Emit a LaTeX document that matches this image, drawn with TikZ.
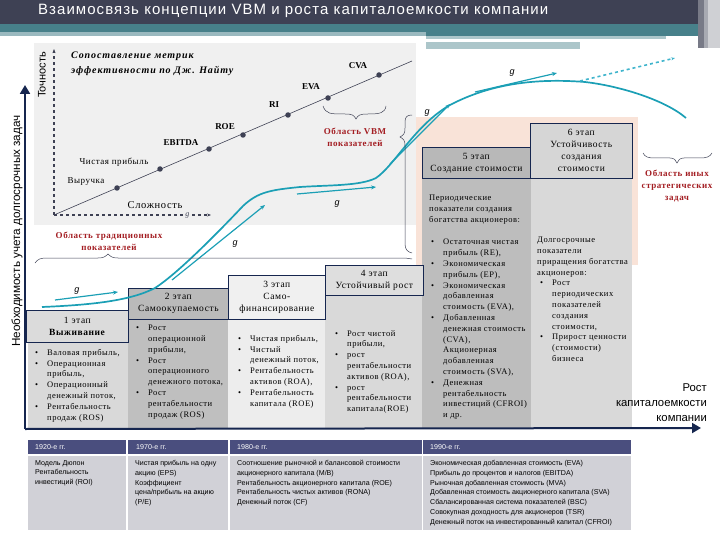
\documentclass[tikz,border=0pt]{standalone}
\usepackage{fontspec}
\setmainfont{Liberation Serif}
\setsansfont{Liberation Sans}
\newfontfamily\titlefont[LetterSpace=7]{Liberation Sans}
\newfontfamily\stagefont[LetterSpace=6]{Liberation Serif}
\newfontfamily\panelfont[LetterSpace=9]{Liberation Serif}
\usetikzlibrary{
    positioning,           % Relative positioning
    arrows.meta            % Modern arrow tips
}
\definecolor{navyline}{HTML}{16264F}
\definecolor{headdark}{HTML}{3E4154}
\definecolor{headteal}{HTML}{47808A}
\definecolor{flowteal}{HTML}{1B9FB5}
\definecolor{flowlight}{HTML}{3FB4CC}
\definecolor{areared}{HTML}{A31D22}
\definecolor{tablehead}{HTML}{4A4E7E}
\definecolor{tablebody}{HTML}{D1D1D7}
\definecolor{stagepink}{HTML}{F9E3D8}
\newcommand{\itm}[1]{\makebox[12pt][l]{\textbullet}#1}
\newcommand{\cnt}[1]{\hspace*{12pt}#1}
\tikzset{
    stagehead/.style={draw=navyline,line width=0.7pt,anchor=north west,inner sep=0pt,align=center,
        font=\stagefont\fontsize{9.5}{12}\selectfont},
    stagebody/.style={anchor=north west,inner sep=0pt},
    bodytext/.style={anchor=north west,inner sep=0pt,align=left,
        font=\stagefont\fontsize{8.5}{10.8}\selectfont},
    metric/.style={inner sep=0pt,font=\bfseries\fontsize{9}{10}\selectfont},
    metricru/.style={inner sep=0pt,font=\stagefont\fontsize{9}{10}\selectfont},
    metricdot/.style={circle,fill=headdark,inner sep=0pt,minimum size=5.5pt},
    arealabel/.style={inner sep=0pt,align=center,text=areared,
        font=\stagefont\bfseries\fontsize{9}{12}\selectfont},
    glabel/.style={inner sep=0pt,font=\sffamily\itshape\fontsize{9}{10}\selectfont},
    gflow/.style={flowteal,line width=1.2pt,-{Stealth[length=5pt,width=4pt]}},
    maincurve/.style={flowteal,line width=1.7pt},
    bigaxis/.style={navyline,line width=2pt,rounded corners=2pt},
    areabrace/.style={headdark,line width=0.5pt},
    tablehd/.style={fill=tablehead,anchor=north west,inner sep=0pt,minimum height=14pt},
    tablebd/.style={fill=tablebody,anchor=north west,inner sep=0pt,minimum height=74pt},
    tabletext/.style={anchor=north west,inner sep=0pt,align=left,font=\sffamily\fontsize{7.1}{9.8}\selectfont},
    tablelabel/.style={anchor=west,inner sep=0pt,text=white,font=\sffamily\fontsize{7.1}{8}\selectfont}
}
\begin{document}
\begin{tikzpicture}[x=1pt,y=-1pt]
    \useasboundingbox (0,0) rectangle (720,540);
    % header band
    \fill[headteal!55!white] (0,32) rectangle (426,36);
    \fill[headteal] (0,24) rectangle (426,32);
    \fill[headteal] (426,24) rectangle (698,36);
    \fill[headteal!45!white] (426,36) rectangle (666,39.5);
    \fill[headteal!45!white] (426,42.5) rectangle (580,49);
    \fill[headdark] (0,0) rectangle (698,24);
    \fill[headdark!70!white] (698,0) rectangle (704,48);
    \fill[headdark!45!white] (704,0) rectangle (708,48);
    \fill[headdark!25!white] (708,0) rectangle (720,48);
    \node[anchor=west,inner sep=0pt,text=white,font=\titlefont\fontsize{15}{16}\selectfont] (title) at (38,11) {Взаимосвязь концепции VBM и роста капиталоемкости компании};
    % metric panel
    \fill[black!6] (34,43) rectangle (416,225);
    \fill[stagepink] (416,117) rectangle (638,265);
    \coordinate (origin) at (54,215);
    \coordinate (ytop) at (54,49);
    \coordinate (xend) at (211,215);
    \coordinate (lineend) at (412,61);
    \draw[headdark,line width=1.1pt,dashed,-{Stealth[length=4pt]}] (origin) -- (ytop);
    \draw[headdark,line width=1.1pt,dashed,-{Stealth[length=4pt]}] (origin) -- node[pos=0.85,fill=black!6,inner sep=1pt,font=\itshape\fontsize{8}{8}\selectfont] (gaxis) {g} (xend);
    \draw[headdark,line width=0.6pt] (origin) -- (lineend);
    \node[metricdot] (mrev) at (117,188) {};
    \node[metricdot] (mnet) at (160,169) {};
    \node[metricdot] (mebitda) at (209,149) {};
    \node[metricdot] (mroe) at (243,135) {};
    \node[metricdot] (mri) at (288,115) {};
    \node[metricdot] (meva) at (328,98) {};
    \node[metricdot] (mcva) at (379,75) {};
    \node[metricru] at (86,182) {Выручка};
    \node[metricru] at (114,162) {Чистая прибыль};
    \node[metric] at (181,143) {EBITDA};
    \node[metric] at (225,127) {ROE};
    \node[metric] at (274,105) {RI};
    \node[metric] at (311,87) {EVA};
    \node[metric] at (358,66) {CVA};
    \node[inner sep=0pt,font=\stagefont\fontsize{10.5}{12}\selectfont] (hard) at (155,205) {Сложность};
    \node[anchor=north west,inner sep=0pt,align=left,font=\panelfont\bfseries\itshape\fontsize{10}{15}\selectfont] (panel) at (71,51.5) {Сопоставление метрик\\эффективности по Дж. Найту};
    \node[rotate=90,inner sep=0pt,font=\sffamily\fontsize{11}{12}\selectfont] (accuracy) at (42,75) {Точность};
    \node[rotate=90,inner sep=0pt,font=\sffamily\fontsize{11.7}{12}\selectfont] (need) at (17,231) {Необходимость учета долгосрочных задач};
    % stages
    \node[stagebody,fill=black!15,minimum width=100pt,minimum height=86pt] (body1) at (28,342) {};
    \node[stagebody,fill=black!25,minimum width=100pt,minimum height=109pt] (body2) at (128,319) {};
    \node[stagebody,fill=black!7,minimum width=97pt,minimum height=109pt] (body3) at (228,319) {};
    \node[stagebody,fill=black!15,minimum width=97pt,minimum height=133pt] (body4) at (325,295) {};
    \node[stagebody,fill=black!26,minimum width=109pt,minimum height=250pt] (body5) at (422,178) {};
    \node[stagebody,fill=black!15,minimum width=101pt,minimum height=250pt] (body6) at (531,178) {};
    \node[stagehead,fill=black!14,minimum width=102pt,minimum height=32pt] (stage1) at (26,310) {1 этап\\\textbf{Выживание}};
    \node[stagehead,fill=black!27,minimum width=100pt,minimum height=31pt] (stage2) at (128,288) {2 этап\\Самоокупаемость};
    \node[stagehead,fill=black!6,minimum width=97pt,minimum height=44pt] (stage3) at (228,275) {3 этап\\Само-\\финансирование};
    \node[stagehead,fill=black!13,minimum width=98pt,minimum height=30pt] (stage4) at (325,265) {4 этап\\Устойчивый рост};
    \node[stagehead,fill=black!28,minimum width=108pt,minimum height=31pt] (stage5) at (422,147) {5 этап\\Создание стоимости};
    \node[stagehead,fill=black!16,minimum width=102pt,minimum height=55pt] (stage6) at (530,123) {6 этап\\Устойчивость\\создания\\стоимости};
    % stage texts
    \node[bodytext] (text1) at (35,349) {\itm{Валовая прибыль,}\\\itm{Операционная}\\\cnt{прибыль,}\\\itm{Операционный}\\\cnt{денежный поток,}\\\itm{Рентабельность}\\\cnt{продаж (ROS)}};
    \node[bodytext] (text2) at (136,325) {\itm{Рост}\\\cnt{операционной}\\\cnt{прибыли,}\\\itm{Рост}\\\cnt{операционного}\\\cnt{денежного потока,}\\\itm{Рост}\\\cnt{рентабельности}\\\cnt{продаж (ROS)}};
    \node[bodytext] (text3) at (238,335) {\itm{Чистая прибыль,}\\\itm{Чистый}\\\cnt{денежный поток,}\\\itm{Рентабельность}\\\cnt{активов (ROA),}\\\itm{Рентабельность}\\\cnt{капитала (ROE)}};
    \node[bodytext] (text4) at (335,330) {\itm{Рост чистой}\\\cnt{прибыли,}\\\itm{рост}\\\cnt{рентабельности}\\\cnt{активов (ROA),}\\\itm{рост}\\\cnt{рентабельности}\\\cnt{капитала(ROE)}};
    \node[bodytext] (text5a) at (429,195) {Периодические\\показатели создания\\богатства акционеров:};
    \node[bodytext] (text5) at (431,239) {\itm{Остаточная чистая}\\\cnt{прибыль (RE),}\\\itm{Экономическая}\\\cnt{прибыль (EP),}\\\itm{Экономическая}\\\cnt{добавленная}\\\cnt{стоимость (EVA),}\\\itm{Добавленная}\\\cnt{денежная стоимость}\\\cnt{(CVA),}\\\cnt{Акционерная}\\\cnt{добавленная}\\\cnt{стоимость (SVA),}\\\itm{Денежная}\\\cnt{рентабельность}\\\cnt{инвестиций (CFROI)}\\\cnt{и др.}};
    \node[bodytext] (text6) at (537,237) {Долгосрочные\\показатели\\приращения богатства\\акционеров:\\\hspace*{3pt}\itm{Рост}\\\hspace*{3pt}\cnt{периодических}\\\hspace*{3pt}\cnt{показателей}\\\hspace*{3pt}\cnt{создания}\\\hspace*{3pt}\cnt{стоимости,}\\\hspace*{3pt}\itm{Прирост ценности}\\\hspace*{3pt}\cnt{(стоимости)}\\\hspace*{3pt}\cnt{бизнеса}};
    % big axes
    \coordinate (needtop) at (25,85);
    \coordinate (corner) at (25,429);
    \coordinate (growthend) at (701,428);
    \draw[bigaxis,-{Triangle[length=9pt,width=10pt]}] (corner) -- (needtop);
    \draw[bigaxis,-{Triangle[length=9pt,width=10pt]}] (corner) -- (growthend);
    \node[anchor=north east,inner sep=0pt,align=right,font=\sffamily\fontsize{11.3}{14.6}\selectfont] (growth) at (707,384) {Рост\\капиталоемкости\\компании};
    % growth curve
    \draw[maincurve] (42,307) .. controls (90,305) and (130,301) .. (155,288)
        .. controls (180,272) and (225,225) .. (243,206)
        .. controls (258,192) and (270,190) .. (300,187)
        .. controls (330,185) and (360,186) .. (376,178)
        .. controls (395,165) and (415,125) .. (450,105)
        .. controls (490,84) and (535,78) .. (585,82)
        .. controls (620,86) and (665,100) .. (686,118);
    \coordinate (branch) at (580,81);
    \coordinate (branchend) at (675,58);
    \draw[flowlight,line width=1.6pt,dashed,-{Stealth[length=4pt]}] (branch) -- (branchend);
    % g flows
    \coordinate (ga1) at (55,300);
    \coordinate (gb1) at (118,292);
    \coordinate (ga2) at (172,280);
    \coordinate (gb2) at (265,205);
    \coordinate (ga3) at (297,194);
    \coordinate (gb3) at (376,187);
    \coordinate (ga4) at (390,164);
    \coordinate (gb4) at (450,104);
    \coordinate (ga5) at (475,92);
    \coordinate (gb5) at (557,73);
    \foreach \n in {1,...,5}
        \draw[gflow] (ga\n) -- (gb\n);
    \node[glabel] (g1) at (77,291) {g};
    \node[glabel] (g2) at (235,244) {g};
    \node[glabel] (g3) at (337,204) {g};
    \node[glabel] (g4) at (427,113) {g};
    \node[glabel] (g5) at (512,73) {g};
    % braces
    \draw[areabrace] (323,106) .. controls (326,114) and (330,114) .. (345,114) .. controls (352,114) and (354,115) .. (356,119)
        .. controls (358,115) and (360,114) .. (368,114) .. controls (380,114) and (385,113) .. (386,106);
    \draw[areabrace] (35,263) .. controls (38,259) and (40,258) .. (48,258) -- (98,258) .. controls (103,258) and (105,257) .. (108,254)
        .. controls (111,257) and (113,258) .. (118,258) -- (398,258) .. controls (405,258) and (408,258) .. (412,259);
    \draw[areabrace] (412,253) .. controls (408,252) and (405,250) .. (405,244) -- (405,146) .. controls (405,141) and (404,139) .. (400,137)
        .. controls (404,135) and (405,133) .. (405,128) -- (405,122) .. controls (405,117) and (407,115) .. (412,115);
    \draw[areabrace] (643,153) .. controls (645,157) and (648,158) .. (655,158) -- (670,158) .. controls (674,158) and (676,160) .. (677,163)
        .. controls (678,160) and (680,158) .. (684,158) -- (700,158) .. controls (706,158) and (710,157) .. (712,153);
    \node[arealabel] (vbmarea) at (355,137) {Область VBM\\показателей};
    \node[arealabel] (tradarea) at (109,241) {Область традиционных\\показателей};
    \node[arealabel] (stratarea) at (677,186) {Область иных\\стратегических\\задач};
    % table
    \node[tablehd,minimum width=98pt] (hd1) at (28,440) {};
    \node[tablehd,minimum width=100pt] (hd2) at (128,440) {};
    \node[tablehd,minimum width=192pt] (hd3) at (230,440) {};
    \node[tablehd,minimum width=208pt] (hd4) at (423,440) {};
    \node[tablebd,minimum width=98pt] (bd1) at (28,456) {};
    \node[tablebd,minimum width=100pt] (bd2) at (128,456) {};
    \node[tablebd,minimum width=192pt] (bd3) at (230,456) {};
    \node[tablebd,minimum width=208pt] (bd4) at (423,456) {};
    \node[tablelabel] at (35,447) {1920-е гг.};
    \node[tablelabel] at (136,447) {1970-е гг.};
    \node[tablelabel] at (237,447) {1980-е гг.};
    \node[tablelabel] at (430,447) {1990-е гг.};
    \node[tabletext] (era1) at (35,460) {Модель Дюпон\\Рентабельность\\инвестиций (ROI)};
    \node[tabletext] (era2) at (135,460) {Чистая прибыль на одну\\акцию (EPS)\\Коэффициент\\цена/прибыль на акцию\\(P/E)};
    \node[tabletext] (era3) at (237,460) {Соотношение рыночной и балансовой стоимости\\акционерного капитала (M/B)\\Рентабельность акционерного капитала (ROE)\\Рентабельность чистых активов (RONA)\\Денежный поток (CF)};
    \node[tabletext] (era4) at (430,460) {Экономическая добавленная стоимость (EVA)\\Прибыль до процентов и налогов (EBITDA)\\Рыночная добавленная стоимость (MVA)\\Добавленная стоимость акционерного капитала (SVA)\\Сбалансированная система показателей (BSC)\\Совокупная доходность для акционеров (TSR)\\Денежный поток на инвестированный капитал (CFROI)};
\end{tikzpicture}
\end{document}
